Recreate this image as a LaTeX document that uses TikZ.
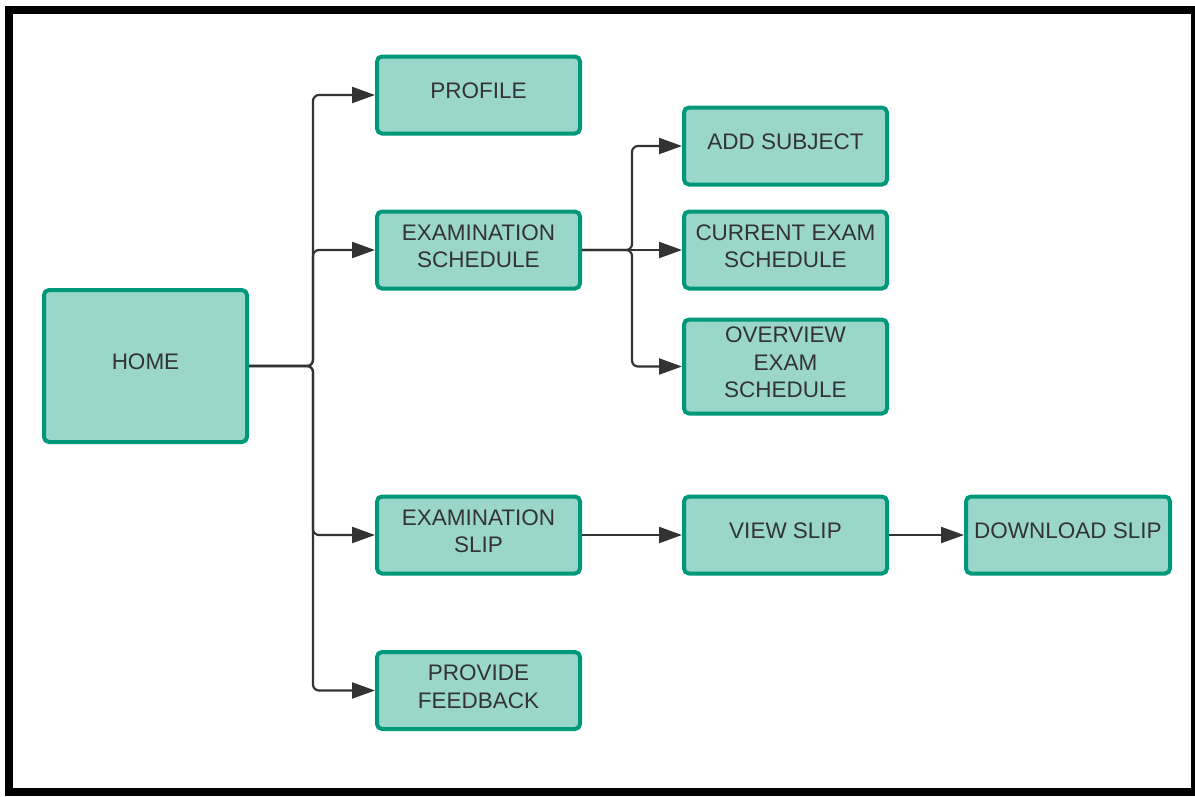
\documentclass[tikz,border=0pt]{standalone}
\usepackage{fontspec}
\setmainfont{Liberation Sans}
\usetikzlibrary{arrows.meta}
\definecolor{boxfill}{HTML}{9AD7CA}
\definecolor{boxline}{HTML}{00987A}
\definecolor{ink}{HTML}{333333}
\tikzset{
  box/.style={draw=boxline, fill=boxfill, line width=4pt, rounded corners=5pt,
    minimum width=203pt, minimum height=77pt, inner sep=0pt},
  lbl/.style={align=center, text=ink, yshift=4pt, inner sep=0pt,
    font=\fontsize{22.5}{27.5}\selectfont},
  conn/.style={draw=ink, line width=2.2pt, rounded corners=6pt,
    -{Triangle[length=23pt,width=16pt]}},
}
\begin{document}
\begin{tikzpicture}[x=1pt,y=-1pt]
\useasboundingbox (0,0) rectangle (1195,796);
\draw[line width=8pt] (9,9.5) rectangle (1195,792);

\node[box, minimum height=152pt, label={[lbl]center:HOME}] (home) at (145.5,366) {};
\node[box, label={[lbl]center:PROFILE}] (profile) at (478.5,95) {};
\node[box, label={[lbl]center:EXAMINATION\\SCHEDULE}] (sched) at (478.5,250) {};
\node[box, label={[lbl]center:ADD SUBJECT}] (add) at (785.5,146) {};
\node[box, label={[lbl]center:CURRENT EXAM\\SCHEDULE}] (current) at (785.5,250) {};
\node[box, minimum height=94pt, label={[lbl]center:OVERVIEW\\EXAM\\SCHEDULE}] (overview) at (785.5,366.5) {};
\node[box, label={[lbl]center:EXAMINATION\\SLIP}] (slip) at (478.5,535) {};
\node[box, label={[lbl]center:VIEW SLIP}] (view) at (785.5,535) {};
\node[box, minimum width=204pt, label={[lbl]center:DOWNLOAD SLIP}] (download) at (1068,535) {};
\node[box, label={[lbl]center:PROVIDE\\FEEDBACK}] (feedback) at (478.5,690.5) {};

\draw[conn] (home.east) -- ++(64,0) |- (profile.west);
\draw[conn] (home.east) -- ++(64,0) |- (sched.west);
\draw[conn] (home.east) -- ++(64,0) |- (slip.west);
\draw[conn] (home.east) -- ++(64,0) |- (feedback.west);

\draw[conn] (sched.east) -- ++(50,0) |- (add.west);
\draw[conn] (sched.east) -- (current.west);
\draw[conn] (sched.east) -- ++(50,0) |- (overview.west);

\draw[conn] (slip) -- (view);
\draw[conn] (view) -- (download);
\end{tikzpicture}
\end{document}
